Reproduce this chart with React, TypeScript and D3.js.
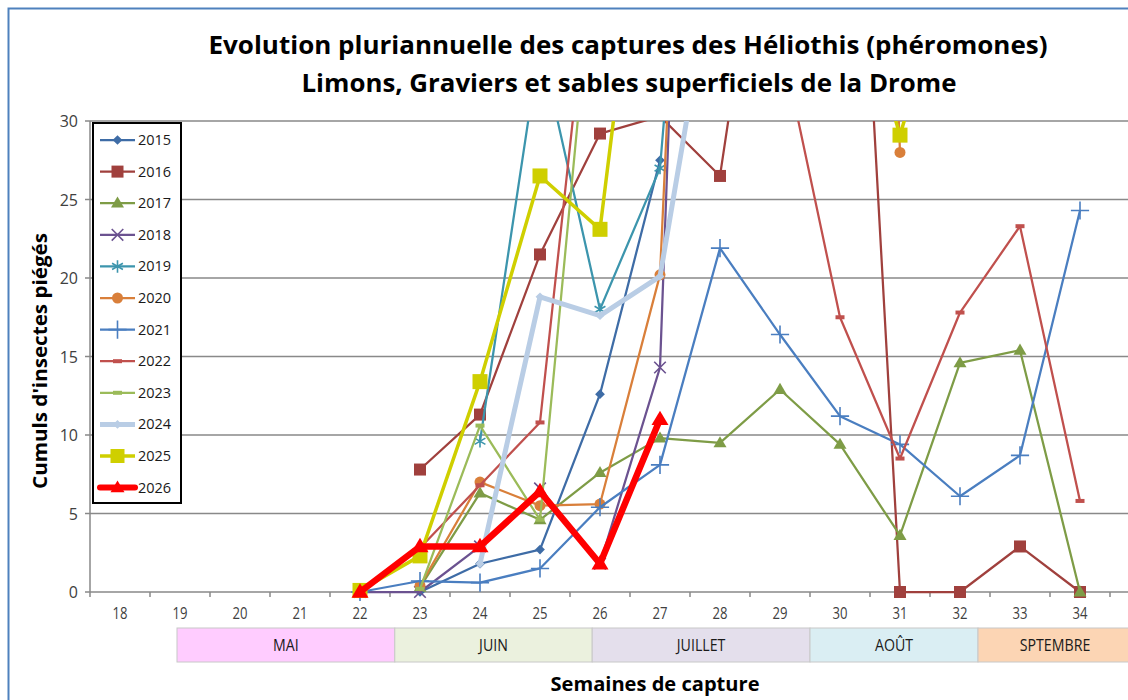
import React from 'react';
import * as d3 from 'd3';

// axis categories (weeks) and the weeks that carry data
const weeks = [18, 19, 20, 21, 22, 23, 24, 25, 26, 27, 28, 29, 30, 31, 32, 33, 34, 35];
const weekLabels = ['18', '19', '20', '21', '22', '23', '24', '25', '26', '27', '28', '29', '30', '31', '32', '33', '34', ''];
const dataWeeks = [22, 23, 24, 25, 26, 27, 28, 29, 30, 31, 32, 33, 34];
const yTicks = [0, 5, 10, 15, 20, 25, 30];

// cumulated catches, one value per data week (null = no reading)
const s2015 = [null, 0, 1.8, 2.7, 12.6, 27.5, null, null, null, null, null, null, null];
const s2016 = [null, 7.8, 11.3, 21.5, 29.2, 30.3, 26.5, 52, 69, 0, 0, 2.9, 0];
const s2017 = [null, 0.3, 6.3, 4.6, 7.6, 9.8, 9.5, 12.9, 9.4, 3.6, 14.6, 15.4, 0];
const s2018 = [0, 0, 2.9, 6.6, 1.8, 14.3, 120, null, null, null, null, null, null];
const s2019 = [null, null, 9.6, 35, 18, 27, 73, null, null, null, null, null, null];
const s2020 = [null, 0.4, 7.0, 5.5, 5.6, 20.2, 104, null, 130, 28, null, null, null];
const s2021 = [0, 0.7, 0.6, 1.5, 5.4, 8.1, 21.9, 16.4, 11.2, 9.4, 6.1, 8.7, 24.3];
const s2022 = [null, 2.8, 6.8, 10.8, 46, 50, 45, 35.5, 17.5, 8.5, 17.8, 23.3, 5.8];
const s2023 = [null, 0.2, 10.6, 4.6, 45, null, null, null, null, null, null, null, null];
const s2024 = [null, null, 1.8, 18.8, 17.6, 20.1, 42.5, null, null, null, null, null, null];
const s2025 = [0.1, 2.3, 13.4, 26.5, 23.1, 54, null, null, 42, 29.1, 42, null, null];
const s2026 = [0, 2.9, 2.9, 6.4, 1.8, 11, null, null, null, null, null, null, null];

const years = ['2015', '2016', '2017', '2018', '2019', '2020', '2021', '2022', '2023', '2024', '2025', '2026'];
const seriesValues = [s2015, s2016, s2017, s2018, s2019, s2020, s2021, s2022, s2023, s2024, s2025, s2026];

// month strip under the axis, spans expressed in weeks
const months = ['MAI', 'JUIN', 'JUILLET', 'AOÛT', 'SPTEMBRE'];
const monthFrom = [18.95, 22.58, 25.87, 29.5, 32.3];
const monthTo = [22.58, 25.87, 29.5, 32.3, 35.5];
const monthFill = ['#FFCCFF', '#EBF1DE', '#E4DFEC', '#DAEEF3', '#FCD5B4'];

const styles = [
  { color: '#3E6CA6', width: 2.25, marker: 'diamond', size: 11 },
  { color: '#A0403D', width: 2.25, marker: 'square', size: 12 },
  { color: '#7E9C46', width: 2.25, marker: 'triangle', size: 13 },
  { color: '#6B5290', width: 2.25, marker: 'x', size: 9 },
  { color: '#3C95AD', width: 2.25, marker: 'star', size: 10 },
  { color: '#D97F3A', width: 2.25, marker: 'circle', size: 11 },
  { color: '#4A7EC0', width: 2.25, marker: 'plus', size: 10 },
  { color: '#C0504D', width: 2.25, marker: 'dash', size: 9 },
  { color: '#9BBB59', width: 2.25, marker: 'dash', size: 9 },
  { color: '#B9CDE5', width: 5, marker: 'diamond', size: 10 },
  { color: '#CFCF00', width: 3.5, marker: 'square', size: 15 },
  { color: '#FF0000', width: 6.5, marker: 'triangle', size: 17 },
];

const W = 1128;
const H = 700;
const left = 90;
const top = 121;
const bottom = 592;

const x = d3.scaleBand<number>().domain(weeks).range([left, left + weeks.length * 60]);
const xc = (w: number) => (x(w) as number) + x.bandwidth() / 2;
const y = d3.scaleLinear().domain([0, 30]).range([bottom, top]);
// continuous position for the month strip edges
const xw = d3.scaleLinear().domain([weeks[0], weeks[weeks.length - 1]]).range([xc(weeks[0]), xc(weeks[weeks.length - 1])]);

const font = '"Open Sans", "Noto Sans", sans-serif';

function Marker({ kind, size, color, cx, cy }: any) {
  const s = size;
  const t = `translate(${cx},${cy})`;
  if (kind === 'square') return <rect x={cx - s / 2} y={cy - s / 2} width={s} height={s} fill={color} />;
  if (kind === 'circle') return <circle cx={cx} cy={cy} r={s / 2} fill={color} />;
  if (kind === 'dash') return <rect x={cx - s / 2} y={cy - 2} width={s} height={4} fill={color} />;
  if (kind === 'diamond') {
    const d = d3.symbol(d3.symbolDiamond2, s * s * 0.5)();
    return <path d={d as string} transform={t} fill={color} />;
  }
  if (kind === 'triangle') {
    const h = s * 0.85;
    return <path d={`M${cx},${cy - h * 0.6}L${cx + s / 2},${cy + h * 0.4}L${cx - s / 2},${cy + h * 0.4}Z`} fill={color} />;
  }
  const sym = kind === 'x' ? d3.symbolTimes : kind === 'star' ? d3.symbolAsterisk : d3.symbolPlus;
  const d = d3.symbol(sym, s * s * 1.1)();
  return <path d={d as string} transform={t} fill="none" stroke={color} strokeWidth={1.6} />;
}

export default function App() {
  const line = d3.line<[number, number | null]>()
    .defined(d => d[1] !== null)
    .x(d => xc(d[0]))
    .y(d => y(d[1] as number));

  return (
    <svg width={W} height={H} style={{ position: 'absolute', left: 0, top: 0, background: '#fff' }}
      fontFamily={font}>
      <defs>
        <clipPath id="plot">
          <rect x={left} y={top} width={W - left} height={bottom - top + 20} />
        </clipPath>
      </defs>
      <rect width={W} height={H} fill="#fff" />
      <path d={`M8.5,${H}V8.5H${W}`} fill="none" stroke="#4F81BD" strokeWidth={2} />

      {/* title */}
      <text x={628} y={54} textAnchor="middle" fontSize={25} fontWeight="bold" textLength={839}
        lengthAdjust="spacingAndGlyphs">
        Evolution pluriannuelle des captures des Héliothis (phéromones)
      </text>
      <text x={629} y={92} textAnchor="middle" fontSize={25} fontWeight="bold" textLength={655}
        lengthAdjust="spacingAndGlyphs">
        Limons, Graviers et sables superficiels de la Drome
      </text>

      {/* grid + y axis */}
      {yTicks.map(t => (
        <g key={t}>
          {t > 0 && <line x1={left} x2={W} y1={y(t)} y2={y(t)} stroke="#898989" strokeWidth={1.5} />}
          <line x1={left - 5} x2={left} y1={y(t)} y2={y(t)} stroke="#898989" strokeWidth={1.5} />
          <text x={78} y={y(t) + 6} textAnchor="end" fontSize={16} fill="#404040">{t}</text>
        </g>
      ))}
      <line x1={left} x2={left} y1={top} y2={bottom} stroke="#898989" strokeWidth={1.5} />

      {/* x axis */}
      <line x1={left} x2={W} y1={bottom} y2={bottom} stroke="#898989" strokeWidth={1.5} />
      {weeks.map(w => (
        <line key={'t' + w} x1={x(w) as number} x2={x(w) as number} y1={bottom} y2={bottom + 5}
          stroke="#898989" strokeWidth={1.5} />
      ))}
      {weeks.map((w, i) => (
        <text key={'l' + w} x={xc(w)} y={619} textAnchor="middle" fontSize={15.5} fill="#404040"
          textLength={weekLabels[i] ? 15 : undefined} lengthAdjust="spacingAndGlyphs">{weekLabels[i]}</text>
      ))}

      {/* month strip */}
      {months.map((m, i) => {
        const a = xw(monthFrom[i]);
        const b = xw(monthTo[i]);
        const cx = (a + Math.min(b, W)) / 2 + (i === 4 ? 2 : 0);
        return (
          <g key={m}>
            <rect x={a} y={628} width={b - a} height={34} fill={monthFill[i]} stroke="#C8C8C8" strokeWidth={1} />
            <text transform={`translate(${cx},651) scale(0.86,1)`} textAnchor="middle" fontSize={16.5}
              fill="#1a1a1a">{m}</text>
          </g>
        );
      })}

      {/* axis titles */}
      <text x={655} y={691} textAnchor="middle" fontSize={19} fontWeight="bold" textLength={209}
        lengthAdjust="spacingAndGlyphs">Semaines de capture</text>
      <text transform="translate(47,361) rotate(-90)" textAnchor="middle" fontSize={19} fontWeight="bold"
        textLength={256} lengthAdjust="spacingAndGlyphs">Cumuls d'insectes piégés</text>

      {/* series */}
      {seriesValues.map((vals, si) => {
        const st = styles[si];
        const pts = dataWeeks.map((w, i) => [w, vals[i]] as [number, number | null]);
        return (
          <g key={years[si]}>
            <path d={line(pts) as string} fill="none" stroke={st.color} strokeWidth={st.width}
              strokeLinejoin="round" clipPath="url(#plot)" />
            {pts.filter(p => p[1] !== null && (p[1] as number) <= 30).map(p => (
              <Marker key={p[0]} kind={st.marker} size={st.size} color={st.color} cx={xc(p[0])} cy={y(p[1] as number)} />
            ))}
          </g>
        );
      })}

      {/* legend */}
      <rect x={93} y={123} width={88} height={380} fill="#fff" stroke="#000" strokeWidth={2} />
      {years.map((yr, i) => {
        const st = styles[i];
        const cy = 140 + i * 31.6;
        return (
          <g key={'lg' + yr}>
            <line x1={100} x2={135} y1={cy} y2={cy} stroke={st.color} strokeWidth={Math.min(st.width, 6)}
              strokeLinecap={i === 11 ? 'round' : 'butt'} />
            <Marker kind={st.marker} size={Math.min(st.size, 14)} color={st.color} cx={117.5} cy={cy} />
            <text x={138} y={cy + 5} fontSize={14.5} fill="#1a1a1a">{yr}</text>
          </g>
        );
      })}
    </svg>
  );
}
